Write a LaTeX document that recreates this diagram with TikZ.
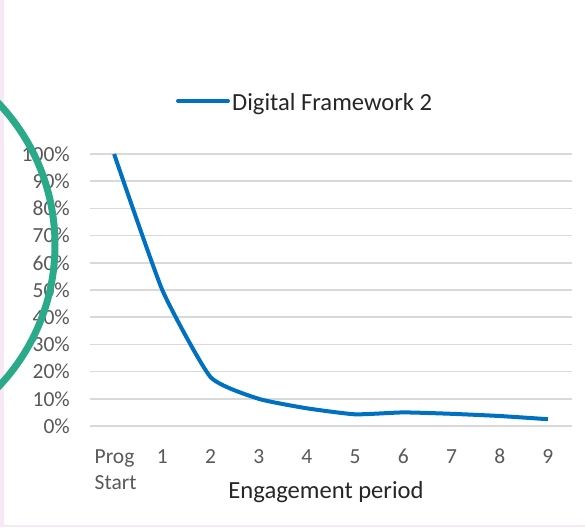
\documentclass[tikz,border=0pt]{standalone}
\usepackage{fontspec}
\setmainfont{Carlito}
\definecolor{pinkbg}{HTML}{F6E9F3}
\definecolor{gridc}{HTML}{D9D9D9}
\definecolor{tickc}{HTML}{595959}
\definecolor{titlec}{HTML}{262626}
\definecolor{serie}{HTML}{0070C0}
\definecolor{teal}{HTML}{2BAA8A}
\tikzset{
  gridline/.style={draw=gridc, line width=1.5pt},
  ytick/.style={anchor=east, text=tickc, font=\fontsize{21.5}{24}\selectfont, inner sep=0pt},
  xtick/.style={anchor=base, text=tickc, font=\fontsize{21.5}{26}\selectfont, inner sep=0pt, align=left},
  titletext/.style={text=titlec, font=\fontsize{24.6}{28}\selectfont, inner sep=0pt},
  serieline/.style={draw=serie, line width=4pt, line join=round, line cap=round},
}
\begin{document}
\begin{tikzpicture}[x=1pt, y=-1pt]
\useasboundingbox (0,0) rectangle (585,527);
\fill[pinkbg] (0,0) rectangle (585,527);
\fill[white] (3.5,0) rectangle (585,525);
% gridlines and y labels
\foreach \k in {0,...,10}{
  \pgfmathsetmacro{\yy}{426-27.2*\k}
  \draw[gridline] (90,\yy) -- (572,\yy);
  \pgfmathtruncatemacro{\pc}{10*\k}
  \node[ytick] (y\k) at (70,\yy) {\pc\%};
}
% x labels
\node[xtick, anchor=base west] (x0) at (94.5,489) {Prog\\Start};
\foreach \i in {1,...,9}{
  \pgfmathsetmacro{\xx}{114.1+48.2*\i}
  \node[xtick] (x\i) at (\xx,463) {\i};
}
\node[titletext, anchor=base] (xtitle) at (326,498) {Engagement period};
% legend
\coordinate (l1) at (178,101);
\coordinate (l2) at (228,101);
\draw[serieline] (l1) -- (l2);
\node[titletext, anchor=base west] (legend) at (232,110) {Digital Framework 2};
% data
\coordinate (p0) at (114.1,154);
\coordinate (p1) at (162.3,290);
\coordinate (p2) at (210.5,377.0);
\coordinate (p3) at (258.7,398.8);
\coordinate (p4) at (306.9,408.3);
\coordinate (p5) at (355.1,414.3);
\coordinate (p6) at (403.3,412.4);
\coordinate (p7) at (451.5,413.8);
\coordinate (p8) at (499.7,416.0);
\coordinate (p9) at (547.9,419.2);
\draw[serieline, line cap=butt] plot[smooth, tension=0.3] coordinates {(p0) (p1) (p2) (p3) (p4) (p5) (p6) (p7) (p8) (p9)};
% green arc
\begin{scope}
\clip (0,0) rectangle (585,527);
\draw[teal, line width=7pt] (-151,245) circle[radius=206];
\end{scope}
\end{tikzpicture}
\end{document}
